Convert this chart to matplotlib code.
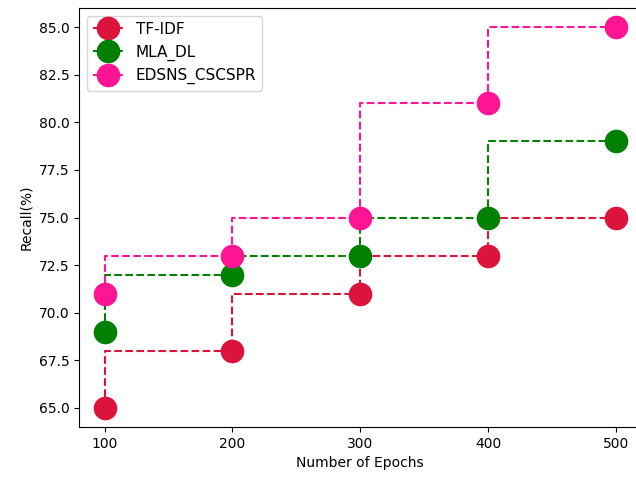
import matplotlib
matplotlib.use("Agg")
import matplotlib.pyplot as plt

epochs = [100, 200, 300, 400, 500]
tfidf = [65, 68, 71, 73, 75]
mla_dl = [69, 72, 73, 75, 79]
edsns = [71, 73, 75, 81, 85]

W, H = 636, 478
fig = plt.figure(figsize=(W / 100, H / 100), dpi=100)
ax = fig.add_axes([79 / W, (H - 427) / H, (641.5 - 79) / W, (427 - 8) / H])
ax.step(epochs, tfidf, where='pre', linestyle='--', marker='o', ms=16, color='crimson', label='TF-IDF')
ax.step(epochs, mla_dl, where='pre', linestyle='--', marker='o', ms=16, color='green', label='MLA_DL')
ax.step(epochs, edsns, where='pre', linestyle='--', marker='o', ms=16, color='deeppink', label='EDSNS_CSCSPR')
ax.set_xlabel('Number of Epochs')
ax.set_ylabel('Recall(%)')
ax.set_xticks(epochs)
ax.legend(loc='upper left', fontsize=11)
fig.savefig('out.png')
